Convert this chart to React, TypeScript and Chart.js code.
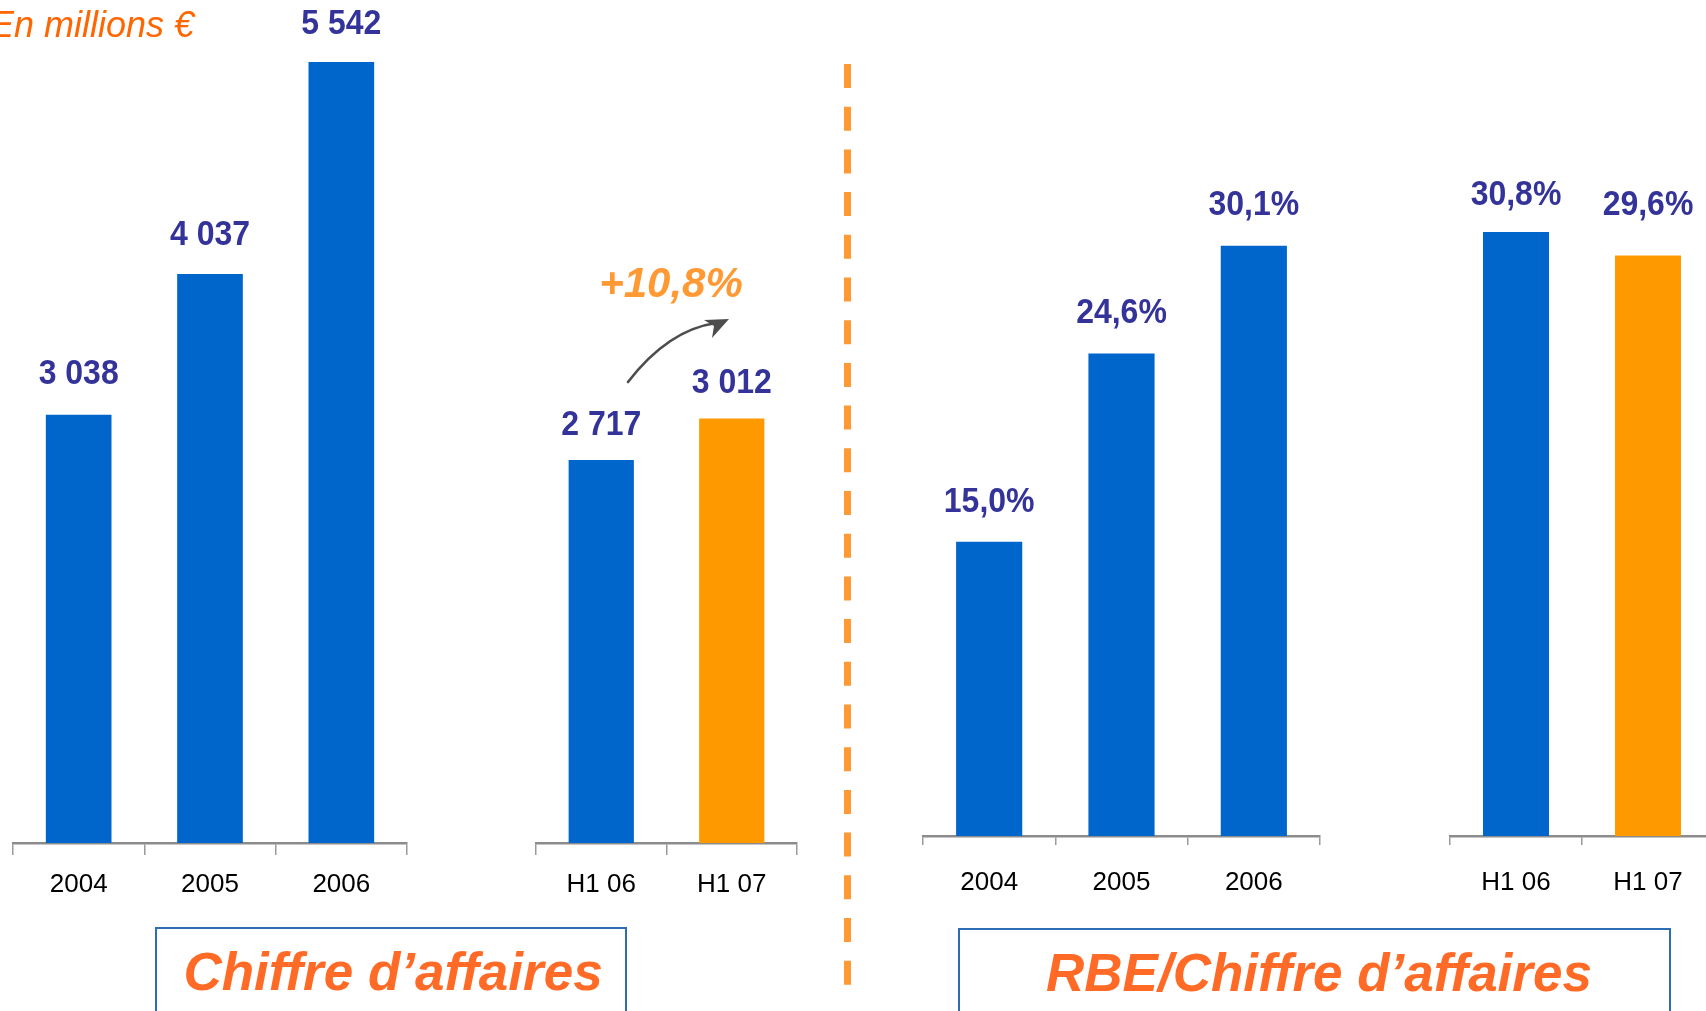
import React, { useEffect, useRef } from "react";
import { Chart, registerables } from "chart.js";

Chart.register(...registerables);

// ---------- DATA ----------
const caYears = ["2004", "2005", "2006"];
const caYearValues = [3038, 4037, 5542]; // Chiffre d'affaires, M€
const caHalves = ["H1 06", "H1 07"];
const caHalfValues = [2717, 3012];
const caGrowth = "+10,8%";

const rbeYears = ["2004", "2005", "2006"];
const rbeYearValues = [15.0, 24.6, 30.1]; // RBE / CA, %
const rbeHalves = ["H1 06", "H1 07"];
const rbeHalfValues = [30.8, 29.6];

const unitText = "En millions €";
const titleLeft = "Chiffre d’affaires";
const titleRight = "RBE/Chiffre d’affaires";

// ---------- STYLE ----------
const W = 1706;
const H = 1011;
const FONT = '"Liberation Sans", Arial, Helvetica, sans-serif';
const BLUE = "#0066CC";
const ORANGE = "#FF9900";
const LABEL = "#333399";

const fmtThousands = (v: number) =>
  String(v).replace(/\B(?=(\d{3})+(?!\d))/g, " ");
const fmtPct = (v: number) => v.toFixed(1).replace(".", ",") + "%";

const valueLabelPlugin = {
  id: "valueLabels",
  afterDatasetsDraw(chart: any, _args: any, opts: any) {
    const ctx = chart.ctx;
    const meta = chart.getDatasetMeta(0);
    meta.data.forEach((bar: any, i: number) => {
      const off = opts.offsets[i] ?? 38;
      ctx.save();
      ctx.font = `bold 32px ${FONT}`;
      ctx.fillStyle = LABEL;
      ctx.textAlign = "center";
      ctx.textBaseline = "middle";
      ctx.translate(bar.x, bar.y - off);
      ctx.scale(1, 1.08);
      ctx.fillText(opts.texts[i], 0, 0);
      ctx.restore();
    });
  },
};

type PanelProps = {
  left: number;
  width: number;
  labels: string[];
  values: number[];
  colors: string[];
  texts: string[];
  yMax: number;
  pad: { left: number; right: number; top: number; bottom: number };
  tickLength: number;
  tickPadding: number;
  offsets: number[];
};

const AXIS_H = 60;

function Panel(p: PanelProps) {
  const ref = useRef<HTMLCanvasElement>(null);
  useEffect(() => {
    if (!ref.current) return;
    const chart = new Chart(ref.current, {
      type: "bar",
      data: {
        labels: p.labels,
        datasets: [
          {
            data: p.values,
            backgroundColor: p.colors,
            borderWidth: 0,
            barPercentage: 0.5,
            categoryPercentage: 1,
          },
        ],
      },
      options: {
        animation: false,
        responsive: false,
        devicePixelRatio: 1,
        layout: { padding: p.pad },
        plugins: {
          legend: { display: false },
          tooltip: { enabled: false },
          // @ts-ignore
          valueLabels: { texts: p.texts, offsets: p.offsets },
        },
        scales: {
          x: {
            offset: true,
            grid: {
              display: true,
              offset: true,
              drawOnChartArea: false,
              drawTicks: true,
              tickLength: p.tickLength,
              color: "#9a9a9a",
              lineWidth: 1.5,
            },
            border: { display: true, color: "#8c8c8c", width: 2.5 },
            ticks: {
              color: "#000000",
              font: { family: FONT, size: 26 },
              padding: p.tickPadding,
              maxRotation: 0,
              autoSkip: false,
            },
            afterFit: (scale: any) => {
              scale.height = AXIS_H;
            },
          },
          y: { display: false, min: 0, max: p.yMax },
        },
      },
      plugins: [valueLabelPlugin],
    });
    return () => chart.destroy();
  }, []);
  return (
    <canvas
      ref={ref}
      width={p.width}
      height={H}
      style={{ position: "absolute", left: p.left, top: 0, width: p.width, height: H }}
    />
  );
}

export default function App() {
  useEffect(() => {
    document.body.style.margin = "0";
  }, []);

  const caMax = Math.max(...caYearValues, ...caHalfValues);
  const rbeMax = Math.max(...rbeYearValues, ...rbeHalfValues);

  const leftBottom = H - 843 - AXIS_H;
  const rightBottom = H - 836 - AXIS_H;

  return (
    <div
      style={{
        position: "fixed",
        left: 0,
        top: 0,
        width: W,
        height: H,
        overflow: "hidden",
        background: "#ffffff",
      }}
    >
      <Panel
        left={0}
        width={430}
        labels={caYears}
        values={caYearValues}
        colors={caYearValues.map(() => BLUE)}
        texts={caYearValues.map(fmtThousands)}
        yMax={caMax}
        pad={{ left: 13, right: 23, top: 62, bottom: leftBottom }}
        tickLength={12}
        tickPadding={14}
        offsets={[40, 39, 38]}
      />
      <Panel
        left={500}
        width={330}
        labels={caHalves}
        values={caHalfValues}
        colors={[BLUE, ORANGE]}
        texts={caHalfValues.map(fmtThousands)}
        yMax={caMax}
        pad={{ left: 36, right: 33, top: 62, bottom: leftBottom }}
        tickLength={12}
        tickPadding={14}
        offsets={[35, 35]}
      />
      <Panel
        left={880}
        width={470}
        labels={rbeYears}
        values={rbeYearValues}
        colors={rbeYearValues.map(() => BLUE)}
        texts={rbeYearValues.map(fmtPct)}
        yMax={rbeMax}
        pad={{ left: 43, right: 30, top: 232, bottom: rightBottom }}
        tickLength={9}
        tickPadding={22}
        offsets={[39, 40, 40]}
      />
      <Panel
        left={1420}
        width={320}
        labels={rbeHalves}
        values={rbeHalfValues}
        colors={[BLUE, ORANGE]}
        texts={rbeHalfValues.map(fmtPct)}
        yMax={rbeMax}
        pad={{ left: 30, right: 26, top: 232, bottom: rightBottom }}
        tickLength={9}
        tickPadding={22}
        offsets={[37, 50]}
      />

      <svg
        width={W}
        height={H}
        style={{ position: "absolute", left: 0, top: 0, pointerEvents: "none" }}
      >
        <text
          x={-10}
          y={37}
          fontFamily={FONT}
          fontStyle="italic"
          fontSize={36}
          fill="#FF6600"
        >
          {unitText}
        </text>

        <line
          x1={847.5}
          y1={64}
          x2={847.5}
          y2={985}
          stroke="#FF9933"
          strokeWidth={7}
          strokeDasharray="24 18.7"
        />

        <text
          x={671}
          y={297}
          textAnchor="middle"
          fontFamily={FONT}
          fontStyle="italic"
          fontWeight="bold"
          fontSize={42}
          fill="#FF9933"
        >
          {caGrowth}
        </text>

        <path
          d="M 628 382 Q 668 330 716 323"
          fill="none"
          stroke="#4d4d4d"
          strokeWidth={2.6}
          strokeLinecap="round"
        />
        <path d="M 729 319 L 704 320 L 714 326 L 712 338 Z" fill="#4d4d4d" />

        <rect x={156} y={928} width={470} height={120} fill="none" stroke="#2E6DB4" strokeWidth={2} />
        <rect x={959} y={929} width={711} height={120} fill="none" stroke="#2E6DB4" strokeWidth={2} />

        <text
          x={393}
          y={990}
          textAnchor="middle"
          fontFamily={FONT}
          fontStyle="italic"
          fontWeight="bold"
          fontSize={53}
          fill="#FF6B26"
        >
          {titleLeft}
        </text>
        <text
          x={1319}
          y={991}
          textAnchor="middle"
          fontFamily={FONT}
          fontStyle="italic"
          fontWeight="bold"
          fontSize={53}
          fill="#FF6B26"
        >
          {titleRight}
        </text>
      </svg>
    </div>
  );
}
